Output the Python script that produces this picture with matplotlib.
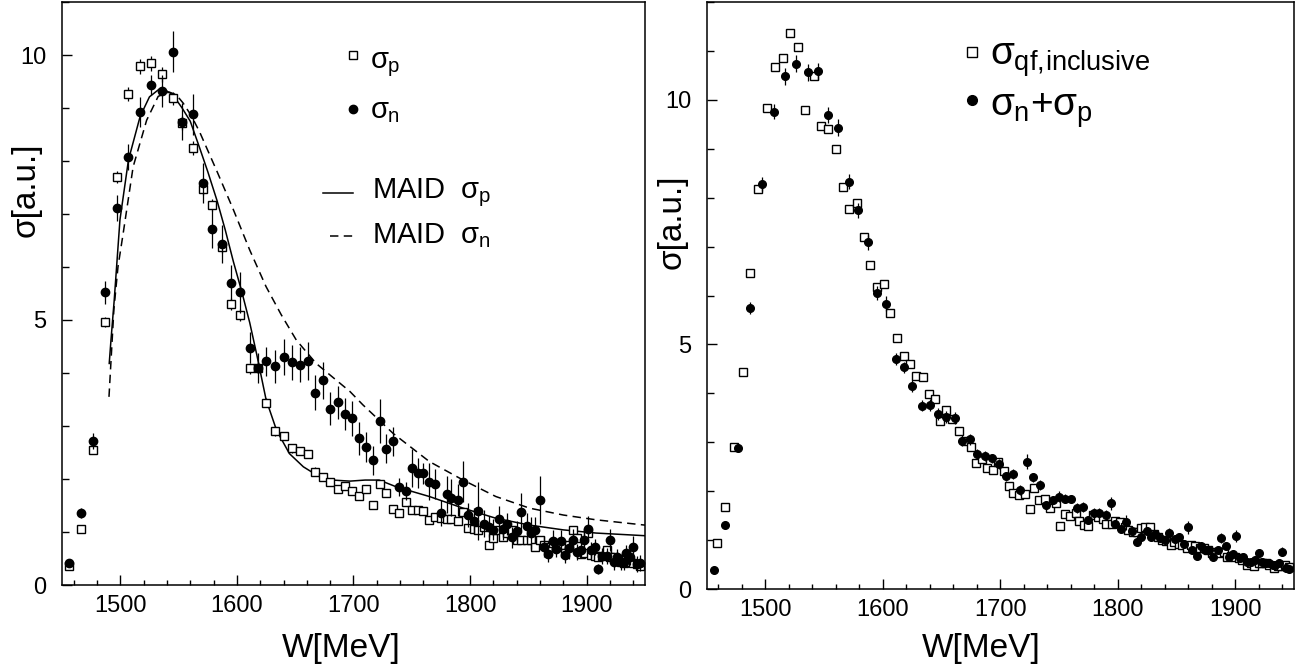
import matplotlib
matplotlib.use("Agg")
import matplotlib.pyplot as plt
from matplotlib.ticker import MultipleLocator

plt.rcParams['font.family'] = ['Liberation Sans', 'DejaVu Sans']
plt.rcParams['mathtext.fontset'] = 'custom'
plt.rcParams['mathtext.rm'] = 'Liberation Sans'
plt.rcParams['mathtext.it'] = 'Liberation Sans'
plt.rcParams['mathtext.sf'] = 'Liberation Sans'
plt.rcParams['mathtext.bf'] = 'Liberation Sans:bold'

# Bins in W (MeV), common to sigma_p, sigma_n and sigma_n+sigma_p
w_bins = [1456, 1466, 1477, 1487, 1497, 1507, 1517, 1526, 1536, 1545, 1553, 1562, 1571, 1579, 1587, 1595, 1603,
          1611, 1618, 1625, 1633, 1640, 1647, 1654, 1661, 1667, 1674, 1680, 1687, 1693,
          1699, 1705, 1711, 1717, 1723, 1728, 1734, 1739, 1745, 1750, 1755, 1760, 1765, 1770, 1775, 1780, 1784, 1790, 1794, 1798,
          1803, 1807, 1812, 1816, 1820, 1825, 1828, 1832, 1836, 1840, 1844, 1849, 1852, 1856, 1860, 1863, 1867, 1871, 1874, 1878,
          1881, 1885, 1888, 1892, 1895, 1898, 1901, 1904, 1907, 1910, 1913, 1917, 1920, 1923, 1926, 1929, 1932, 1934, 1937, 1940, 1943, 1946]

sigma_p = [0.35, 1.06, 2.55, 4.96, 7.70, 9.27, 9.79, 9.84, 9.64, 9.18, 8.72, 8.25, 7.47, 7.17, 6.38, 5.30, 5.09,
           4.09, 4.10, 3.44, 2.91, 2.81, 2.58, 2.53, 2.47, 2.14, 2.03, 1.95, 1.82, 1.87,
           1.77, 1.67, 1.82, 1.51, 1.90, 1.74, 1.43, 1.36, 1.57, 1.42, 1.42, 1.40, 1.23, 1.29, 1.26, 1.24, 1.24, 1.21, 1.38, 1.08,
           1.06, 1.04, 1.10, 0.75, 0.89, 1.04, 0.90, 0.98, 1.04, 0.84, 0.85, 0.84, 0.85, 0.71, 0.85, 0.75, 0.71, 0.79, 0.71, 0.75,
           0.60, 0.75, 1.04, 0.88, 0.58, 0.60, 0.98, 0.57, 0.55, 0.53, 0.55, 0.66, 0.53, 0.52, 0.48, 0.44, 0.41, 0.53, 0.44, 0.41, 0.39, 0.35]
err_p = [0.04, 0.06, 0.08, 0.10, 0.12, 0.13, 0.14, 0.14, 0.14, 0.13, 0.13, 0.13, 0.12, 0.12, 0.11, 0.11, 0.11,
         0.10, 0.10, 0.09, 0.09, 0.08, 0.08, 0.08, 0.08, 0.08, 0.07, 0.07, 0.07, 0.07,
         0.07, 0.07, 0.07, 0.07, 0.07, 0.07, 0.07, 0.06, 0.06, 0.06, 0.06, 0.06, 0.06, 0.06, 0.06, 0.06, 0.06, 0.06, 0.06, 0.06,
         0.06, 0.06, 0.06, 0.06, 0.06, 0.06, 0.06, 0.06, 0.06, 0.06, 0.06, 0.06, 0.06, 0.06, 0.06, 0.06, 0.06, 0.06, 0.06, 0.06,
         0.06, 0.06, 0.08, 0.06, 0.06, 0.06, 0.08, 0.06, 0.06, 0.06, 0.06, 0.06, 0.06, 0.06, 0.06, 0.06, 0.06, 0.06, 0.06, 0.06, 0.06, 0.06]

sigma_n = [0.41, 1.36, 2.71, 5.52, 7.11, 8.08, 8.92, 9.43, 9.32, 10.06, 8.74, 8.88, 7.58, 6.72, 6.43, 5.70, 5.52,
           4.48, 4.09, 4.22, 4.13, 4.30, 4.20, 4.16, 4.23, 3.63, 3.86, 3.33, 3.45, 3.22,
           3.15, 2.77, 2.61, 2.35, 3.09, 2.57, 2.71, 1.85, 1.77, 2.21, 2.11, 2.11, 1.95, 1.90, 1.36, 1.71, 1.65, 1.60, 1.95, 1.32,
           1.21, 1.40, 1.16, 1.10, 1.04, 1.24, 1.05, 1.15, 0.90, 1.01, 1.38, 1.11, 0.98, 1.04, 1.60, 0.72, 0.58, 0.83, 0.68, 0.83,
           0.57, 0.69, 0.85, 0.63, 0.66, 0.85, 1.06, 0.66, 0.71, 0.30, 0.55, 0.55, 0.85, 0.44, 0.52, 0.44, 0.44, 0.60, 0.52, 0.72, 0.39, 0.41]
err_n = [0.05, 0.10, 0.15, 0.22, 0.24, 0.25, 0.28, 0.19, 0.31, 0.39, 0.35, 0.38, 0.38, 0.36, 0.36, 0.33, 0.39,
         0.30, 0.28, 0.28, 0.31, 0.34, 0.33, 0.33, 0.36, 0.33, 0.35, 0.31, 0.31, 0.30,
         0.33, 0.31, 0.28, 0.28, 0.42, 0.27, 0.27, 0.17, 0.17, 0.36, 0.28, 0.20, 0.35, 0.28, 0.25, 0.35, 0.35, 0.30, 0.39, 0.22,
         0.25, 0.55, 0.25, 0.20, 0.20, 0.25, 0.20, 0.20, 0.20, 0.20, 0.35, 0.25, 0.30, 0.25, 0.45, 0.20, 0.15, 0.20, 0.15, 0.20,
         0.15, 0.20, 0.20, 0.15, 0.15, 0.20, 0.25, 0.15, 0.15, 0.10, 0.15, 0.15, 0.20, 0.15, 0.15, 0.15, 0.15, 0.15, 0.15, 0.20, 0.15, 0.15]

# MAID curves
maid_p_w = [1490.5, 1492, 1494.8, 1499.7, 1507, 1517, 1525, 1533, 1537, 1545, 1553, 1560, 1568, 1575, 1583, 1590, 1597,
            1604, 1611, 1617, 1625, 1634, 1645, 1657, 1668, 1682, 1697, 1710, 1722, 1737, 1765, 1794, 1822, 1851, 1880, 1908, 1950]
maid_p = [4.18, 4.62, 5.38, 6.89, 8.02, 8.84, 9.21, 9.35, 9.36, 9.25, 9.0, 8.75, 8.25, 7.8, 7.25, 6.7, 6.1,
          5.55, 4.95, 4.35, 3.5, 2.92, 2.48, 2.23, 2.08, 1.98, 1.96, 1.98, 1.98, 1.85, 1.67, 1.45, 1.26, 1.13, 1.04, 0.98, 0.93]
maid_n_w = [1490.3, 1494.5, 1498, 1502.5, 1511, 1522.6, 1532.5, 1542, 1548, 1554, 1561, 1568, 1583, 1597, 1611, 1625,
            1638, 1651, 1668, 1680, 1697, 1708, 1734, 1765, 1794, 1822, 1851, 1880, 1908, 1950]
maid_n = [3.55, 5.2, 6.0, 6.64, 7.89, 8.77, 9.22, 9.3, 9.25, 9.09, 8.85, 8.55, 7.8, 7.08, 6.32, 5.63,
          5.1, 4.62, 4.18, 3.96, 3.65, 3.40, 2.86, 2.33, 1.98, 1.67, 1.45, 1.32, 1.23, 1.13]

# right panel
sigma_np = [0.39, 1.30, 2.88, 5.74, 8.28, 9.76, 10.48, 10.74, 10.56, 10.58, 9.69, 9.43, 8.33, 7.74, 7.09, 6.05, 5.83,
            4.70, 4.53, 4.15, 3.75, 3.76, 3.57, 3.52, 3.49, 3.03, 3.06, 2.76, 2.72, 2.67,
            2.56, 2.30, 2.35, 2.02, 2.60, 2.28, 2.13, 1.72, 1.81, 1.89, 1.85, 1.85, 1.66, 1.68, 1.41, 1.56, 1.55, 1.51, 1.75, 1.33,
            1.23, 1.36, 1.19, 0.97, 1.06, 1.19, 1.07, 1.12, 1.04, 1.00, 1.14, 1.02, 1.07, 0.93, 1.26, 0.80, 0.68, 0.87, 0.80, 0.80,
            0.65, 0.80, 1.05, 0.87, 0.66, 0.72, 1.08, 0.64, 0.66, 0.56, 0.56, 0.59, 0.73, 0.56, 0.53, 0.54, 0.49, 0.50, 0.53, 0.76, 0.42, 0.41]
err_np = [0.04, 0.06, 0.08, 0.12, 0.14, 0.15, 0.17, 0.17, 0.17, 0.18, 0.16, 0.17, 0.16, 0.15, 0.15, 0.14, 0.15,
          0.13, 0.12, 0.12, 0.12, 0.12, 0.12, 0.12, 0.12, 0.11, 0.11, 0.11, 0.11, 0.10,
          0.10, 0.10, 0.10, 0.10, 0.15, 0.10, 0.10, 0.08, 0.08, 0.12, 0.10, 0.08, 0.10, 0.10, 0.08, 0.10, 0.10, 0.10, 0.13, 0.08,
          0.08, 0.15, 0.08, 0.08, 0.08, 0.08, 0.08, 0.08, 0.08, 0.08, 0.10, 0.08, 0.08, 0.08, 0.14, 0.08, 0.07, 0.08, 0.07, 0.08,
          0.07, 0.08, 0.10, 0.07, 0.07, 0.08, 0.12, 0.07, 0.07, 0.06, 0.07, 0.07, 0.08, 0.07, 0.07, 0.07, 0.07, 0.07, 0.07, 0.09, 0.07, 0.07]

w_incl = [1459, 1466, 1473, 1481, 1487, 1494, 1501, 1508, 1515, 1521, 1528, 1534, 1541, 1547, 1553, 1560, 1566, 1571,
          1578, 1584, 1589, 1595, 1601, 1606, 1612, 1618, 1623, 1628, 1634, 1639, 1644, 1649, 1654, 1659, 1665, 1670,
          1675, 1679, 1684, 1689, 1694, 1698, 1703, 1707, 1711, 1716, 1721, 1725, 1729, 1733, 1738, 1742, 1747, 1751,
          1755, 1759, 1764, 1767, 1771, 1775, 1779, 1783, 1787, 1790, 1795, 1798, 1802, 1806, 1809, 1813, 1816, 1820,
          1823, 1827, 1831, 1834, 1838, 1841, 1845, 1848, 1852, 1855, 1859, 1862, 1866, 1870, 1873, 1877, 1880, 1883,
          1886, 1890, 1893, 1896, 1900, 1903, 1906, 1910, 1913, 1916, 1920, 1923, 1926, 1929, 1933, 1936, 1939, 1942, 1946]
sigma_incl = [0.95, 1.67, 2.91, 4.43, 6.46, 8.18, 9.84, 10.67, 10.85, 11.36, 11.07, 9.80, 10.48, 9.47, 9.41, 8.99, 8.21, 7.76,
              7.90, 7.19, 6.63, 6.17, 6.23, 5.65, 5.13, 4.76, 4.60, 4.36, 4.34, 3.98, 3.89, 3.44, 3.65, 3.48, 3.23, 3.03,
              2.91, 2.57, 2.66, 2.47, 2.43, 2.59, 2.42, 2.11, 1.96, 1.92, 1.94, 1.63, 2.06, 1.82, 1.84, 1.65, 1.76, 1.29,
              1.53, 1.50, 1.55, 1.40, 1.31, 1.29, 1.51, 1.48, 1.43, 1.33, 1.33, 1.40, 1.36, 1.27, 1.21, 1.17, 1.17, 1.24,
              1.27, 1.27, 1.12, 1.07, 1.00, 0.98, 0.90, 0.97, 0.93, 0.90, 0.83, 0.89, 0.87, 0.83, 0.83, 0.80, 0.74, 0.76,
              0.73, 0.76, 0.65, 0.67, 0.66, 0.63, 0.59, 0.49, 0.54, 0.47, 0.53, 0.54, 0.53, 0.49, 0.42, 0.47, 0.46, 0.49, 0.44]
err_incl = [0.03] * 4 + [0.05] * 20 + [0.04] * 30 + [0.03] * 55

def style_axes(ax, ymax):
    ax.set_xlim(1450, 1950)
    ax.set_ylim(0, ymax)
    ax.xaxis.set_major_locator(MultipleLocator(100))
    ax.xaxis.set_minor_locator(MultipleLocator(20))
    ax.yaxis.set_major_locator(MultipleLocator(5))
    ax.yaxis.set_minor_locator(MultipleLocator(1))
    ax.tick_params(which='both', direction='in', top=False, right=False, width=1.0, labelsize=17)
    ax.tick_params(axis='x', which='major', length=7, pad=7)
    ax.tick_params(axis='x', which='minor', length=3.5)
    ax.tick_params(axis='y', which='major', length=7, pad=11)
    ax.tick_params(axis='y', which='minor', length=5)
    for s in ax.spines.values():
        s.set_linewidth(1.1)

fig = plt.figure(figsize=(13.16, 6.69), dpi=100)
ax1 = fig.add_axes([62 / 1316, 1 - 585 / 669, 583 / 1316, 583 / 669])
ax2 = fig.add_axes([706.7 / 1316, 1 - 589 / 669, 587.3 / 1316, 587 / 669])

# Graphique gauche : sigma_p, sigma_n et MAID
ax1.plot(maid_p_w, maid_p, color='black', lw=1.1, zorder=2)
ax1.plot(maid_n_w, maid_n, color='black', lw=1.1, dashes=(5.5, 3.5), zorder=2)
ax1.errorbar(w_bins, sigma_p, yerr=err_p, fmt='s', ms=6, mfc='white', mec='black', mew=1.0,
             ecolor='black', elinewidth=0.9, capsize=0, zorder=3)
ax1.errorbar(w_bins, sigma_n, yerr=err_n, fmt='o', ms=6, mfc='black', mec='black',
             ecolor='black', elinewidth=0.9, capsize=0, zorder=4)
style_axes(ax1, 11)

# legende manuelle
ax1.plot([0.499], [0.909], 's', ms=6, mfc='white', mec='black', mew=1.0, transform=ax1.transAxes)
ax1.text(0.528, 0.887, r'$\sigma_p$', fontsize=21, transform=ax1.transAxes, va='baseline')
ax1.plot([0.499], [0.816], 'o', ms=6, color='black', transform=ax1.transAxes)
ax1.text(0.528, 0.801, r'$\sigma_n$', fontsize=21, transform=ax1.transAxes, va='baseline')
ax1.plot([0.448, 0.499], [0.672, 0.672], color='black', lw=1.1, transform=ax1.transAxes)
ax1.text(0.532, 0.664, r'MAID  $\sigma_p$', fontsize=21, transform=ax1.transAxes, va='baseline')
ax1.plot([0.460, 0.499], [0.599, 0.599], color='black', lw=1.1, dashes=(5.5, 3.5), transform=ax1.transAxes)
ax1.text(0.532, 0.587, r'MAID  $\sigma_n$', fontsize=21, transform=ax1.transAxes, va='baseline')

# Graphique droit : inclusive vs somme
ax2.errorbar(w_incl, sigma_incl, yerr=err_incl, fmt='s', ms=6, mfc='white', mec='black', mew=1.0,
             ecolor='black', elinewidth=0.9, capsize=0, zorder=3)
ax2.errorbar(w_bins, sigma_np, yerr=err_np, fmt='o', ms=5.5, mfc='black', mec='black',
             ecolor='black', elinewidth=0.9, capsize=0, zorder=4)
style_axes(ax2, 12)

ax2.plot([0.452], [0.915], 's', ms=7, mfc='white', mec='black', mew=1.0, transform=ax2.transAxes)
ax2.text(0.482, 0.893, r'$\sigma_{qf,\!inclusive}$', fontsize=28, transform=ax2.transAxes, va='baseline')
ax2.plot([0.452], [0.833], 'o', ms=7, color='black', transform=ax2.transAxes)
ax2.text(0.482, 0.807, r'$\sigma_n$+$\sigma_p$', fontsize=28, transform=ax2.transAxes, va='baseline')

# titres des axes
fig.text(26 / 1316, 1 - 190 / 669, 'σ[a.u.]', rotation=90, ha='center', va='center', fontsize=24)
fig.text(672 / 1316, 1 - 222 / 669, 'σ[a.u.]', rotation=90, ha='center', va='center', fontsize=24)
fig.text(341 / 1316, 1 - 648 / 669, 'W[MeV]', ha='center', va='center', fontsize=24)
fig.text(981 / 1316, 1 - 648 / 669, 'W[MeV]', ha='center', va='center', fontsize=24)

fig.savefig('out.png', dpi=100)
